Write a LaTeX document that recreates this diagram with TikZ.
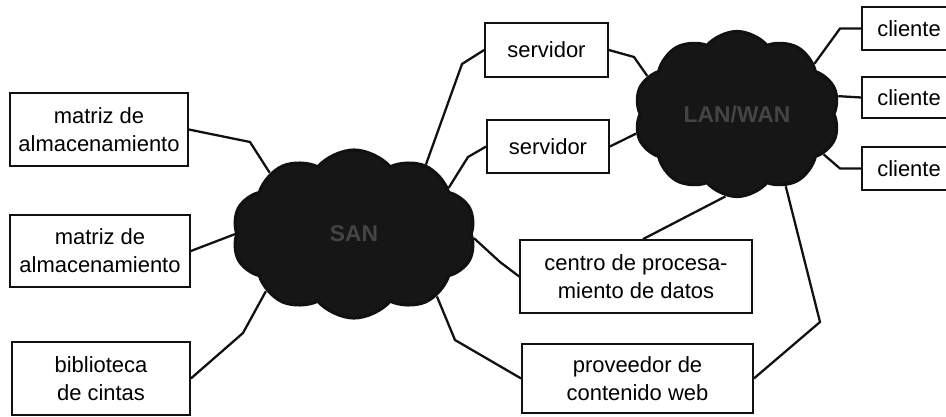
\documentclass[tikz,border=0pt]{standalone}
\usepackage{fontspec}
\setmainfont{Liberation Sans}
\usetikzlibrary{shapes.symbols}
\definecolor{ink}{HTML}{111111}
\definecolor{cloudfill}{HTML}{161616}
\definecolor{cloudtext}{HTML}{444444}

\begin{document}
\begin{tikzpicture}[x=0.02cm,y=-0.02cm,
    box/.style={draw=ink,line width=1pt,align=center,inner sep=0pt,
      font=\fontsize{12.5}{16}\selectfont},
    netcloud/.style={cloud,cloud puffs=10,cloud puff arc=100,draw=ink,
      line width=1.8pt,fill=cloudfill,text=cloudtext,inner sep=0pt,
      font=\fontsize{13}{15}\selectfont\bfseries},
    link/.style={draw=ink,line width=1.3pt,line join=round}]
    \clip (0,0) rectangle (946,416);
    % clouds
    \node[netcloud,minimum width=4.86cm,minimum height=3.36cm] (san) at (354,234) {SAN};
    \node[netcloud,minimum width=4.1cm,minimum height=2.86cm] (lan) at (737,114) {LAN/WAN};
    % storage side
    \node[box,minimum width=3.56cm,minimum height=1.46cm] (mat1) at (99,129.5) {matriz de\\almacenamiento};
    \node[box,minimum width=3.6cm,minimum height=1.44cm] (mat2) at (100,251) {matriz de\\almacenamiento};
    \node[box,minimum width=3.56cm,minimum height=1.46cm] (bib) at (101,378.5) {biblioteca\\de cintas};
    % servers
    \node[box,minimum width=2.46cm,minimum height=1.08cm] (srv1) at (546.5,50) {servidor};
    \node[box,minimum width=2.44cm,minimum height=1.06cm] (srv2) at (548,146.5) {servidor};
    \node[box,minimum width=4.64cm,minimum height=1.46cm] (cpd) at (636,276.5) {centro de procesa-\\miento de datos};
    \node[box,minimum width=4.62cm,minimum height=1.38cm] (web) at (637.5,378.5) {proveedor de\\contenido web};
    % clients
    \node[box,minimum width=1.88cm,minimum height=0.86cm] (cli1) at (909,28.5) {cliente};
    \node[box,minimum width=1.88cm,minimum height=0.82cm] (cli2) at (909,97.5) {cliente};
    \node[box,minimum width=1.88cm,minimum height=0.86cm] (cli3) at (909,168.5) {cliente};

    % links to SAN
    \draw[link] (mat1.east) -- (250,142) -- (san.144);
    \draw[link] (mat2.east) -- (san.180);
    \draw[link] (bib.east) -- (243,333) -- (san.213);
    \draw[link] (srv1.west) -- (462,64) -- (san.44);
    \draw[link] (srv2.west) -- (468,157) -- (san.26);
    \draw[link] (cpd.west) -- (500,262) -- (san.358);
    \draw[link] (web.west) -- (455,340) -- (san.323);
    % links to LAN/WAN
    \draw[link] (srv1.east) -- (634,57) -- (lan.157);
    \draw[link] (srv2.east) -- (lan.191);
    \draw[link] (cpd.north) ++(7,0) -- (lan.262);
    \draw[link] (web.east) -- (820,322) -- (lan.304);
    \draw[link] (cli1.west) -- (840,28.5) -- (lan.33);
    \draw[link] (cli2.west) -- (lan.10);
    \draw[link] (cli3.west) -- (840,168.5) -- (lan.335);
  \end{tikzpicture}
\end{document}
